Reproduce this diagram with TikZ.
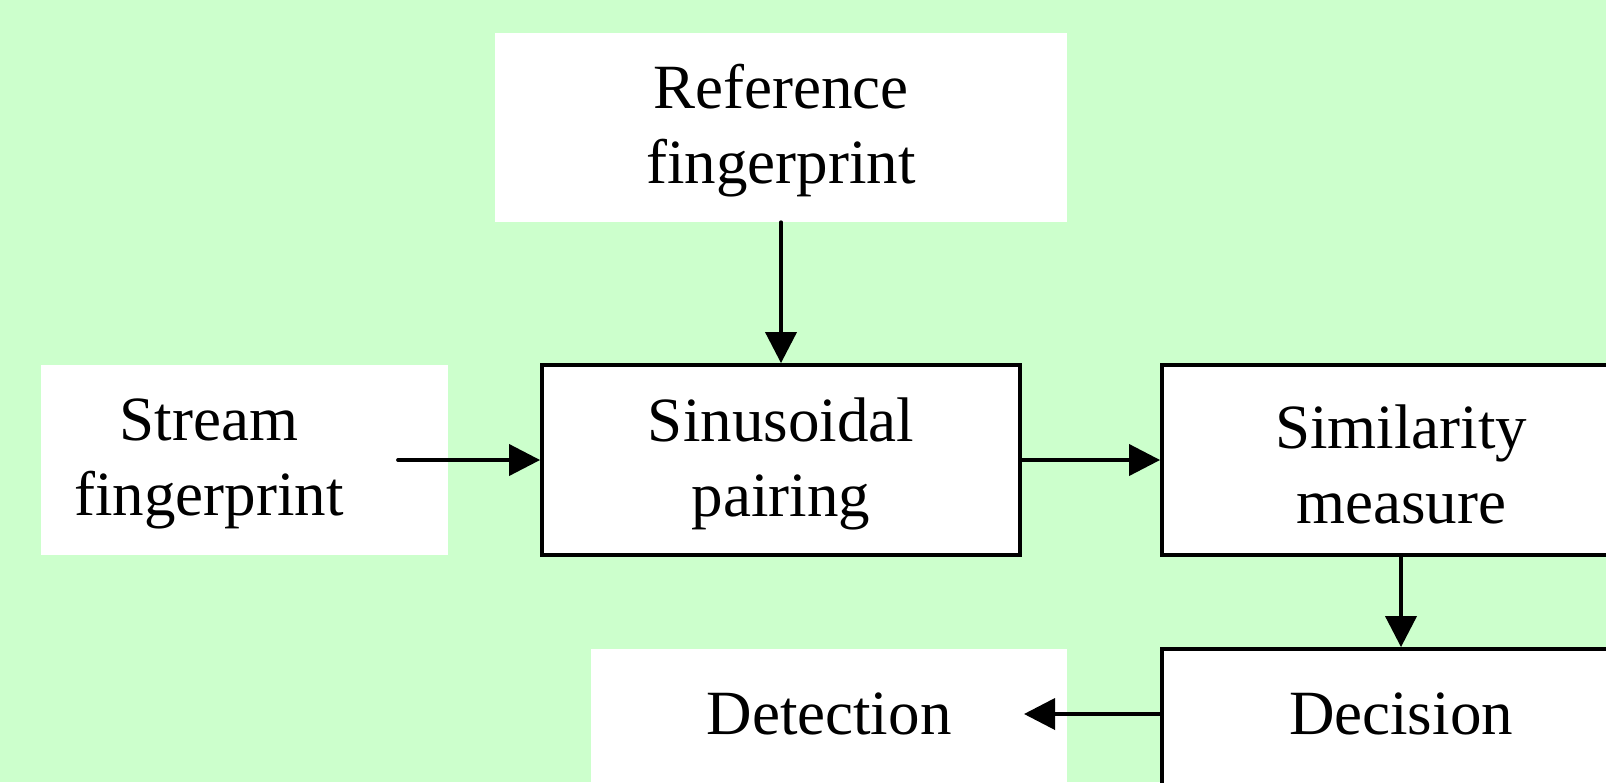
\documentclass[tikz,border=0pt]{standalone}
\usepackage{fontspec}
\setmainfont{Liberation Serif}
\usetikzlibrary{arrows.meta}
\definecolor{bggreen}{RGB}{204,255,204}
\tikzset{
  x=1pt, y=1pt,
  txt/.style={font=\fontsize{63}{75}\selectfont, align=center, inner sep=0pt},
  plainbox/.style={fill=white, inner sep=0pt},
  block/.style={fill=white, draw=black, line width=3.8pt, inner sep=0pt},
  flow/.style={line width=3.8pt, -{Triangle[length=31pt,width=31pt]}, line cap=round},
}
\begin{document}
\begin{tikzpicture}
\useasboundingbox (0,0) rectangle (1606,-782);
\fill[bggreen] (0,0) rectangle (1606,-782);
\clip (0,0) rectangle (1606,-782);

% input boxes (no frame)
\node[plainbox, minimum width=572pt, minimum height=189pt] (ref) at (781,-127.5) {};
\node[txt] (reftext) at (781,-131) {Reference\\fingerprint};
\node[plainbox, minimum width=407pt, minimum height=190pt] (stream) at (244.5,-460) {};
\node[txt] (streamtext) at (209,-464) {Stream\\fingerprint};

% processing blocks
\node[block, minimum width=478pt, minimum height=190pt] (sin) at (781,-460) {};
\node[txt] (sintext) at (781,-464) {Sinusoidal\\pairing};
\node[block, minimum width=478pt, minimum height=190pt] (sim) at (1401,-460) {};
\node[txt] (simtext) at (1401,-464) {Similarity\\measure};
\node[block, minimum width=478pt, minimum height=190pt] (dec) at (1401,-744) {};
\node[txt] (dectext) at (1401,-714) {Decision};

% output box (no frame)
\node[plainbox, minimum width=476pt, minimum height=190pt] (det) at (829,-744) {};
\node[txt] (dettext) at (829,-714) {Detection};

% connectors
\coordinate (streamout) at (398,-460);
\coordinate (dettip) at (1024,-714);
\draw[flow] (ref.south) -- (sin.north);
\draw[flow] (streamout) -- (sin.west);
\draw[flow] (sin.east) -- (sim.west);
\draw[flow] (sim.south) -- (dec.north);
\draw[flow] (dec.west |- dettip) -- (dettip);
\end{tikzpicture}
\end{document}
